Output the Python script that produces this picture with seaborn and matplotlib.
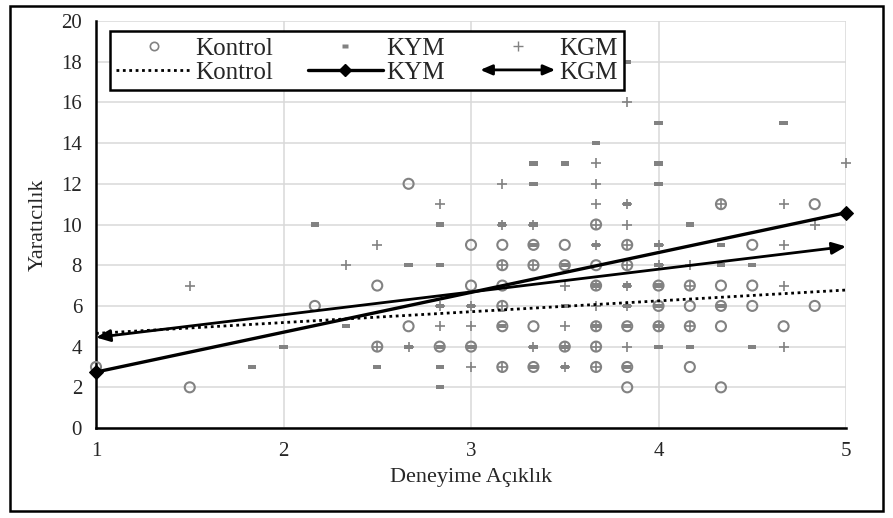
import numpy as np, pandas as pd
from matplotlib import pyplot as plt
from matplotlib.lines import Line2D
from matplotlib.patches import FancyArrowPatch, Rectangle
from matplotlib.legend_handler import HandlerBase
import seaborn as sns

# === DATA
# Kontrol group (open circles)
kontrol_x = [1.0, 1.5, 2.167, 2.5, 2.5, 2.667, 2.667, 2.833,
             3.0, 3.0, 3.0,
             3.167, 3.167, 3.167, 3.167, 3.167, 3.167,
             3.333, 3.333, 3.333, 3.333,
             3.5, 3.5, 3.5,
             3.667, 3.667, 3.667, 3.667, 3.667, 3.667,
             3.833, 3.833, 3.833, 3.833, 3.833,
             4.0, 4.0, 4.0,
             4.167, 4.167, 4.167, 4.167,
             4.333, 4.333, 4.333, 4.333, 4.333,
             4.5, 4.5, 4.5,
             4.667,
             4.833, 4.833]
kontrol_y = [3, 2, 6, 7, 4, 12, 5, 4,
             9, 7, 4,
             9, 8, 7, 6, 5, 3,
             9, 8, 5, 3,
             9, 8, 4,
             10, 8, 7, 5, 4, 3,
             9, 8, 5, 3, 2,
             7, 6, 5,
             7, 6, 5, 3,
             11, 7, 6, 5, 2,
             9, 7, 6,
             5,
             11, 6]

# KYM group (small squares)
kym_x = [1.833, 2.0, 2.167, 2.333, 2.5, 2.667, 2.667,
         2.833, 2.833, 2.833, 2.833, 2.833, 2.833,
         3.0, 3.0,
         3.167, 3.167,
         3.333, 3.333, 3.333, 3.333, 3.333, 3.333,
         3.5, 3.5, 3.5, 3.5, 3.5,
         3.667, 3.667, 3.667, 3.667,
         3.833, 3.833, 3.833, 3.833, 3.833, 3.833,
         4.0, 4.0, 4.0, 4.0, 4.0, 4.0, 4.0, 4.0, 4.0,
         4.167, 4.167,
         4.333, 4.333, 4.333,
         4.5, 4.5,
         4.667]
kym_y = [3, 4, 10, 5, 3, 8, 4,
         10, 8, 6, 4, 3, 2,
         6, 4,
         10, 5,
         13, 12, 10, 9, 4, 3,
         13, 8, 6, 4, 3,
         14, 9, 7, 5,
         18, 11, 7, 6, 5, 3,
         15, 13, 12, 9, 8, 7, 6, 5, 4,
         10, 4,
         9, 8, 6,
         8, 4,
         15]

# KGM group (plus signs)
kgm_x = [1.5, 2.333, 2.5, 2.5, 2.667,
         2.833, 2.833, 2.833,
         3.0, 3.0, 3.0,
         3.167, 3.167, 3.167, 3.167, 3.167,
         3.333, 3.333, 3.333,
         3.5, 3.5, 3.5, 3.5,
         3.667, 3.667, 3.667, 3.667, 3.667, 3.667, 3.667, 3.667, 3.667, 3.667,
         3.833, 3.833, 3.833, 3.833, 3.833, 3.833, 3.833, 3.833,
         4.0, 4.0, 4.0,
         4.167, 4.167, 4.167,
         4.333,
         4.667, 4.667, 4.667, 4.667,
         4.833,
         5.0]
kgm_y = [7, 8, 9, 4, 4,
         11, 6, 5,
         6, 5, 3,
         12, 10, 8, 6, 3,
         10, 8, 4,
         7, 5, 4, 3,
         13, 12, 11, 10, 9, 7, 6, 5, 4, 3,
         16, 11, 10, 9, 8, 7, 6, 4,
         9, 8, 5,
         8, 7, 5,
         11,
         11, 9, 7, 4,
         10,
         13]

# Trend lines (end values at x = 1 and x = 5)
trend_x = [1, 5]
kontrol_trend = [4.65, 6.78]
kym_trend = [2.75, 10.58]
kgm_trend = [4.45, 8.92]

group_names = ["Kontrol", "KYM", "KGM"]

# === STYLE
sns.set_theme(style="whitegrid")
plt.rcParams["font.family"] = ["Liberation Serif", "DejaVu Serif"]
plt.rcParams["grid.color"] = "#d9d9d9"
plt.rcParams["grid.linewidth"] = 1.1

gray = "#828282"
square = [(-1, -0.5), (1, -0.5), (1, 0.5), (-1, 0.5), (-1, -0.5)]

# === PLOT
fig, ax = plt.subplots(figsize=(8.93, 5.18), dpi=100)
fig.subplots_adjust(left=0.1075, right=0.9474, bottom=0.1737, top=0.9595)

sns.scatterplot(x=kontrol_x, y=kontrol_y, ax=ax, marker="o", s=52,
                color=gray, facecolor="none", edgecolor=gray, linewidth=1.5,
                clip_on=False, zorder=3)
sns.scatterplot(x=kym_x, y=kym_y, ax=ax, marker=square, s=36,
                color=gray, edgecolor="none", linewidth=0, clip_on=False, zorder=3)
sns.scatterplot(x=kgm_x, y=kgm_y, ax=ax, marker="+", s=62,
                color=gray, linewidth=1.2, clip_on=False, zorder=3)

# Trend lines
sns.lineplot(x=trend_x, y=kontrol_trend, ax=ax, color="black", lw=2,
             linestyle=(0, (1, 1.3)), zorder=4)
sns.lineplot(x=trend_x, y=kym_trend, ax=ax, color="black", lw=2.4,
             marker="D", markersize=7, markeredgecolor="black", clip_on=False, zorder=4)
ax.annotate("", xy=(trend_x[1], kgm_trend[1]), xytext=(trend_x[0], kgm_trend[0]),
            arrowprops=dict(arrowstyle="<|-|>,head_length=0.7,head_width=0.3",
                            color="black", lw=2, shrinkA=0, shrinkB=0),
            annotation_clip=False, zorder=4)

# Axes
ax.set_xlim(1, 5)
ax.set_ylim(0, 20)
ax.set_xticks([1, 2, 3, 4, 5])
ax.set_yticks(np.arange(0, 21, 2))
ax.tick_params(direction="out", length=5, width=1.5, color="black",
               labelsize=15, pad=5)
for side in ["top", "right"]:
    ax.spines[side].set_visible(False)
for side in ["left", "bottom"]:
    ax.spines[side].set_color("black")
    ax.spines[side].set_linewidth(1.8)
ax.set_xlabel("Deneyime Açıklık", fontsize=16, labelpad=5)
ax.set_ylabel("Yaratıcılık", fontsize=16, labelpad=10)


# Legend with arrow handle for KGM trend
class ArrowHandler(HandlerBase):
    def create_artists(self, legend, orig_handle, xdescent, ydescent,
                       width, height, fontsize, trans):
        y = height / 2 - ydescent
        arrow = FancyArrowPatch((-xdescent, y), (width - xdescent, y),
                                arrowstyle="<|-|>,head_length=0.7,head_width=0.3",
                                color="black", lw=2, mutation_scale=10,
                                shrinkA=0, shrinkB=0, transform=trans)
        return [arrow]


h_kontrol = Line2D([], [], ls="", marker="o", mfc="none", mec=gray, mew=1.2, ms=6)
h_kym = Line2D([], [], ls="", marker=square, color=gray, mec="none", ms=5)
h_kgm = Line2D([], [], ls="", marker="+", color=gray, mew=1, ms=7)
l_kontrol = Line2D([], [], color="black", lw=2, ls=(0, (1, 1.3)))
l_kym = Line2D([], [], color="black", lw=2.4, marker="D", ms=6, markevery=[0, 1])
l_kym.set_data([0, 1], [0, 0])
l_kgm = FancyArrowPatch((0, 0), (1, 0))

handles = [h_kontrol, l_kontrol, h_kym, l_kym, h_kgm, l_kgm]
labels = [group_names[0], group_names[0], group_names[1],
          group_names[1], group_names[2], group_names[2]]
leg = ax.legend(handles, labels, ncol=3, loc="upper left",
                bbox_to_anchor=(0.0187, 0.975), borderaxespad=0,
                fontsize=18, handlelength=3.0, handletextpad=0.15,
                columnspacing=1.4, labelspacing=0.05, borderpad=0.25,
                fancybox=False, framealpha=1, edgecolor="black",
                handler_map={FancyArrowPatch: ArrowHandler()})
leg.get_frame().set_linewidth(1.8)
leg.set_zorder(10)

# Outer chart border
fig.patches.append(Rectangle((0.0112, 0.0135), 0.9776, 0.975,
                             transform=fig.transFigure, fill=False,
                             lw=1.8, ec="black"))

plt.savefig("out.png", dpi=100)
